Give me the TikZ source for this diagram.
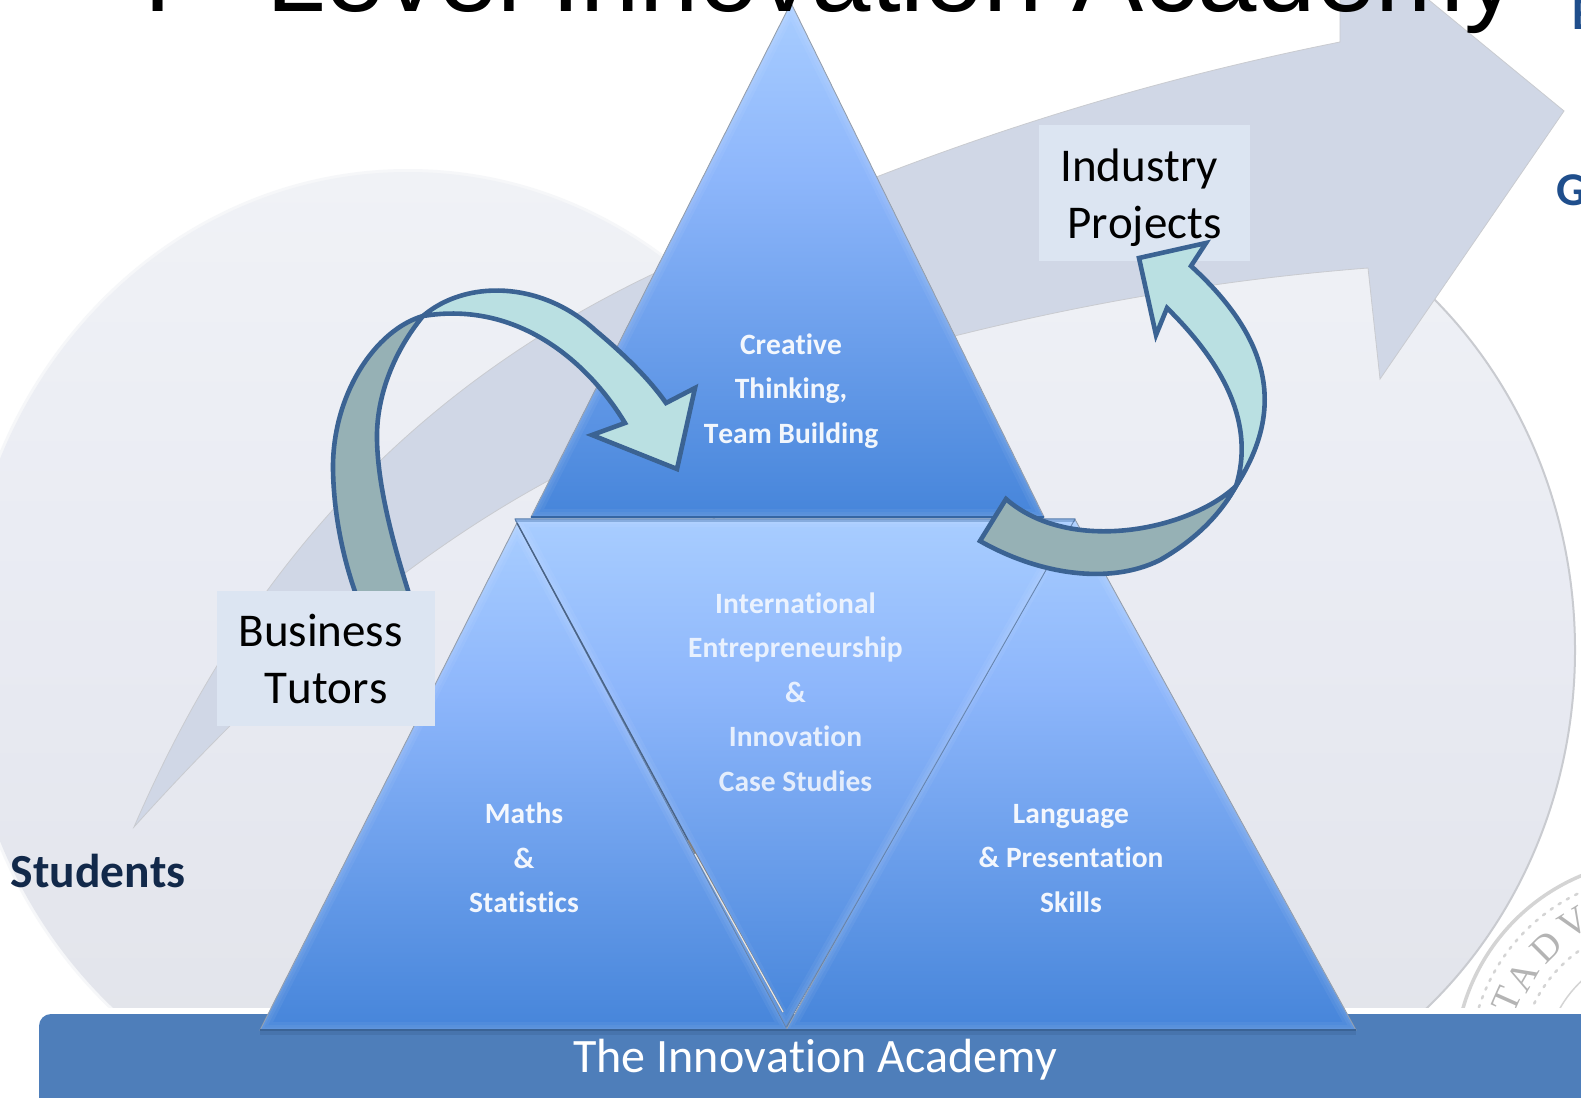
\documentclass[tikz,border=0pt]{standalone}
\usepackage{fontspec}
\setmainfont[Ligatures=NoCommon,Kerning=Off]{Carlito}
\newfontfamily\titlefont{Liberation Sans}
\newfontfamily\sealfont{Liberation Serif}
\definecolor{triTop}{HTML}{A8CDFF}
\definecolor{triMid}{HTML}{8DB6FB}
\definecolor{triBot}{HTML}{4685DA}
\definecolor{arrowLight}{HTML}{BAE0E2}
\definecolor{arrowDark}{HTML}{96B1B5}
\definecolor{arrowEdge}{HTML}{3B6393}
\definecolor{flowFill}{HTML}{D0D7E6}
\definecolor{boxFill}{HTML}{DCE5F2}
\definecolor{barFill}{HTML}{4E7EBA}
\definecolor{navyText}{HTML}{12294A}
\definecolor{blueText}{HTML}{1F4E8C}
\definecolor{sealGrey}{HTML}{D4D4D4}
\definecolor{lobeTop}{HTML}{F0F2F6}
\definecolor{lobeMid}{HTML}{E8EAF2}
\definecolor{lobeBot}{HTML}{E1E3E9}
\definecolor{lobeEdge}{HTML}{C9CBD0}
\definecolor{lobeHalo}{HTML}{F6F7F9}
\definecolor{triEdge}{HTML}{8B97A8}
\definecolor{midEdge}{HTML}{5B7CA8}
\definecolor{topBase}{HTML}{3566A3}
\definecolor{lowBase}{HTML}{3A6396}
\definecolor{sliver}{HTML}{E4E6E8}
\pgfdeclareverticalshading{triShade}{100bp}{color(0bp)=(triBot); color(25bp)=(triBot); color(58bp)=(triMid); color(75bp)=(triTop); color(100bp)=(triTop)}
\tikzset{
  tri/.style={shade, shading=triShade, draw=#1, line width=0.9pt, line join=miter},
  bevel/.style={draw=white, draw opacity=.05, line width=#1},
  band/.style={draw=arrowEdge, line width=4.6pt, line join=miter, miter limit=10},
  labelbox/.style={fill=boxFill, inner sep=0pt, minimum width=#1, minimum height=135pt},
  boxtext/.style={align=center, inner sep=0pt, font=\fontsize{47}{57}\selectfont},
  whitetext/.style={text=white, text opacity=.92, align=center, font=\bfseries\fontsize{29.5}{44.5}\selectfont},
  sealchar/.style={text=sealGrey!85!black, font=\sealfont\fontsize{38}{38}\selectfont},
}
\newcommand{\bevtri}[4]{%
  \path[tri=#4] #1 -- #2 -- #3 -- cycle;
  \begin{scope}\clip #1 -- #2 -- #3 -- cycle;
  \path[bevel=16pt] #1 -- #2 -- #3 -- cycle;
  \path[bevel=10pt] #1 -- #2 -- #3 -- cycle;
  \path[bevel=5pt] #1 -- #2 -- #3 -- cycle;
  \end{scope}}
\begin{document}
\begin{tikzpicture}[x=1pt,y=-1pt]
\useasboundingbox (0,0) rectangle (1581,1097);
\fill[white] (0,0) rectangle (1581,1097);
\begin{scope}
\clip (0,0) rectangle (1581,1097);

% seal
\begin{scope}
\clip (1380,820) rectangle (1581,1007);
\draw[sealGrey, line width=3.5pt] (1660,1065) circle (205);
\draw[sealGrey, line width=2.5pt, dash pattern=on 2.5pt off 7pt, line cap=round] (1660,1065) circle (190);
\draw[sealGrey, line width=2.5pt, dash pattern=on 2.5pt off 7pt, line cap=round] (1660,1065) circle (140);
\draw[sealGrey, line width=1.5pt] (1660,1065) circle (115);
\node[sealchar, rotate=66] (sealT) at (1507,1000) {T};
\node[sealchar, rotate=60] (sealA) at (1522,976) {A};
\node[sealchar, rotate=45] (sealD) at (1546,947) {D};
\node[sealchar, rotate=32] (sealV) at (1574,923) {V};
\end{scope}

% background lobes
\begin{scope}
\clip (-60,100) rectangle (1600,1007);
\draw[lobeHalo, line width=6pt] (408,650) ellipse [x radius=445, y radius=478];
\shade[top color=lobeTop, bottom color=lobeBot, middle color=lobeMid] (408,650) ellipse [x radius=445, y radius=478];
\shade[top color=lobeTop, bottom color=lobeBot, middle color=lobeMid] (1136,650) ellipse [x radius=439, y radius=478];
\draw[lobeEdge, line width=2pt] (1136,650) ellipse [x radius=439, y radius=478];
\end{scope}

% big flow arrow
\path[fill=flowFill, draw=lobeEdge, line width=.8pt]
  (134,827) .. controls (245,570) and (410,390) .. (653,274)
  .. controls (880,165) and (1100,90) .. (1340,42)
  -- (1340,-73) -- (1564,111) -- (1380,379) -- (1368,268)
  .. controls (1150,285) and (950,330) .. (750,395)
  .. controls (550,460) and (370,565) .. (134,827)
  -- cycle;

% bar
\fill[barFill, rounded corners=12pt] (39,1014) rectangle (1660,1130);

% triangles
\bevtri{(517,523)}{(788,1030)}{(260,1030)}{triEdge}
\begin{scope}
\clip (700,519) rectangle (1400,1040);
\bevtri{(1072,514)}{(1356,1030)}{(786,1030)}{triEdge}
\end{scope}
\bevtri{(515,519)}{(1075,519)}{(786,1027)}{midEdge}
\bevtri{(791,3)}{(1044,517)}{(531,517)}{triEdge}
\draw[topBase, line width=2.5pt] (531,517) -- (1044,517);
\draw[topBase, draw opacity=.35, line width=4pt] (515,520) -- (1075,520);
\draw[lowBase, line width=2.5pt] (260,1030) -- (1356,1030);
\draw[lowBase, draw opacity=.35, line width=4pt] (260,1033) -- (1356,1033);
\draw[midEdge!80!black, line width=1.4pt] (517,523) -- (688,840);
\draw[gray, line width=1.8pt] (688,840) -- (783,1012);
\draw[sliver, line width=1.2pt] (695,854) -- (783,1012);

% curved arrow left: back then front
\path[band, fill=arrowDark]
  (423,316) .. controls (375,330) and (332,395) .. (333,470)
  .. controls (334,520) and (345,565) .. (358,600)
  -- (411,600)
  .. controls (395,550) and (378,490) .. (377,440)
  .. controls (376,395) and (395,350) .. (423,316)
  -- cycle;
\path[band, fill=arrowLight]
  (423,316) .. controls (465,280) and (540,280) .. (595,330)
  .. controls (625,355) and (650,380) .. (666,403)
  -- (695,388) -- (677,469) -- (592,435) -- (625,423)
  .. controls (590,365) and (520,300) .. (423,316)
  -- cycle;

% curved arrow right
\path[band, fill=arrowDark]
  (1006,499) -- (980,541)
  .. controls (1040,575) and (1110,585) .. (1160,560)
  .. controls (1195,540) and (1220,515) .. (1236,486)
  .. controls (1190,530) and (1070,555) .. (1006,499)
  -- cycle;

% label boxes
\node[labelbox=218pt] (tutorsbox) at (326,658.5) {};
\node[boxtext] (tutors) at (320.6,658.5) {Business\\\hspace*{11pt}Tutors};
\node[labelbox=211pt] (industrybox) at (1144.5,193) {};
\node[boxtext] (industry) at (1139,198) {Industry\\\hspace*{11pt}Projects};

\path[band, fill=arrowLight]
  (1236,486) .. controls (1285,410) and (1272,340) .. (1191,266)
  -- (1206,243) -- (1139,258) -- (1156,335) -- (1167,308)
  .. controls (1225,365) and (1255,425) .. (1236,486)
  -- cycle;

% triangle labels
\node[whitetext] (creative) at (791,391) {Creative\\Thinking,\\Team Building};
\node[whitetext, text opacity=.8] (entre) at (795.5,692) {International\\Entrepreneurship\\\&\\Innovation\\Case Studies};
\node[whitetext] (maths) at (524,858) {Maths\\\&\\Statistics};
\node[whitetext] (lang) at (1071,858.5) {Language\\\& Presentation\\Skills};

% other text
\node[text=white, font=\fontsize{48}{48}\selectfont] (academy) at (815.5,1060) {The Innovation Academy};
\node[text=navyText, font=\bfseries\fontsize{47.5}{47.5}\selectfont] (students) at (98,871) {Students};
\node[text=blueText, font=\bfseries\fontsize{47}{47}\selectfont, anchor=base west, inner sep=0pt] (gtext) at (1556,205) {G};
\node[text=blueText, font=\bfseries\fontsize{47}{47}\selectfont, anchor=base west, inner sep=0pt] (etext) at (1572,30) {E};
\node[text=black, font=\titlefont\fontsize{106.7}{106.7}\selectfont, anchor=base west, inner sep=0pt] (title) at (125.5,12) {T\hspace{20pt}-\hspace{20pt}Level Innovation Academy};
\end{scope}
\end{tikzpicture}
\end{document}
